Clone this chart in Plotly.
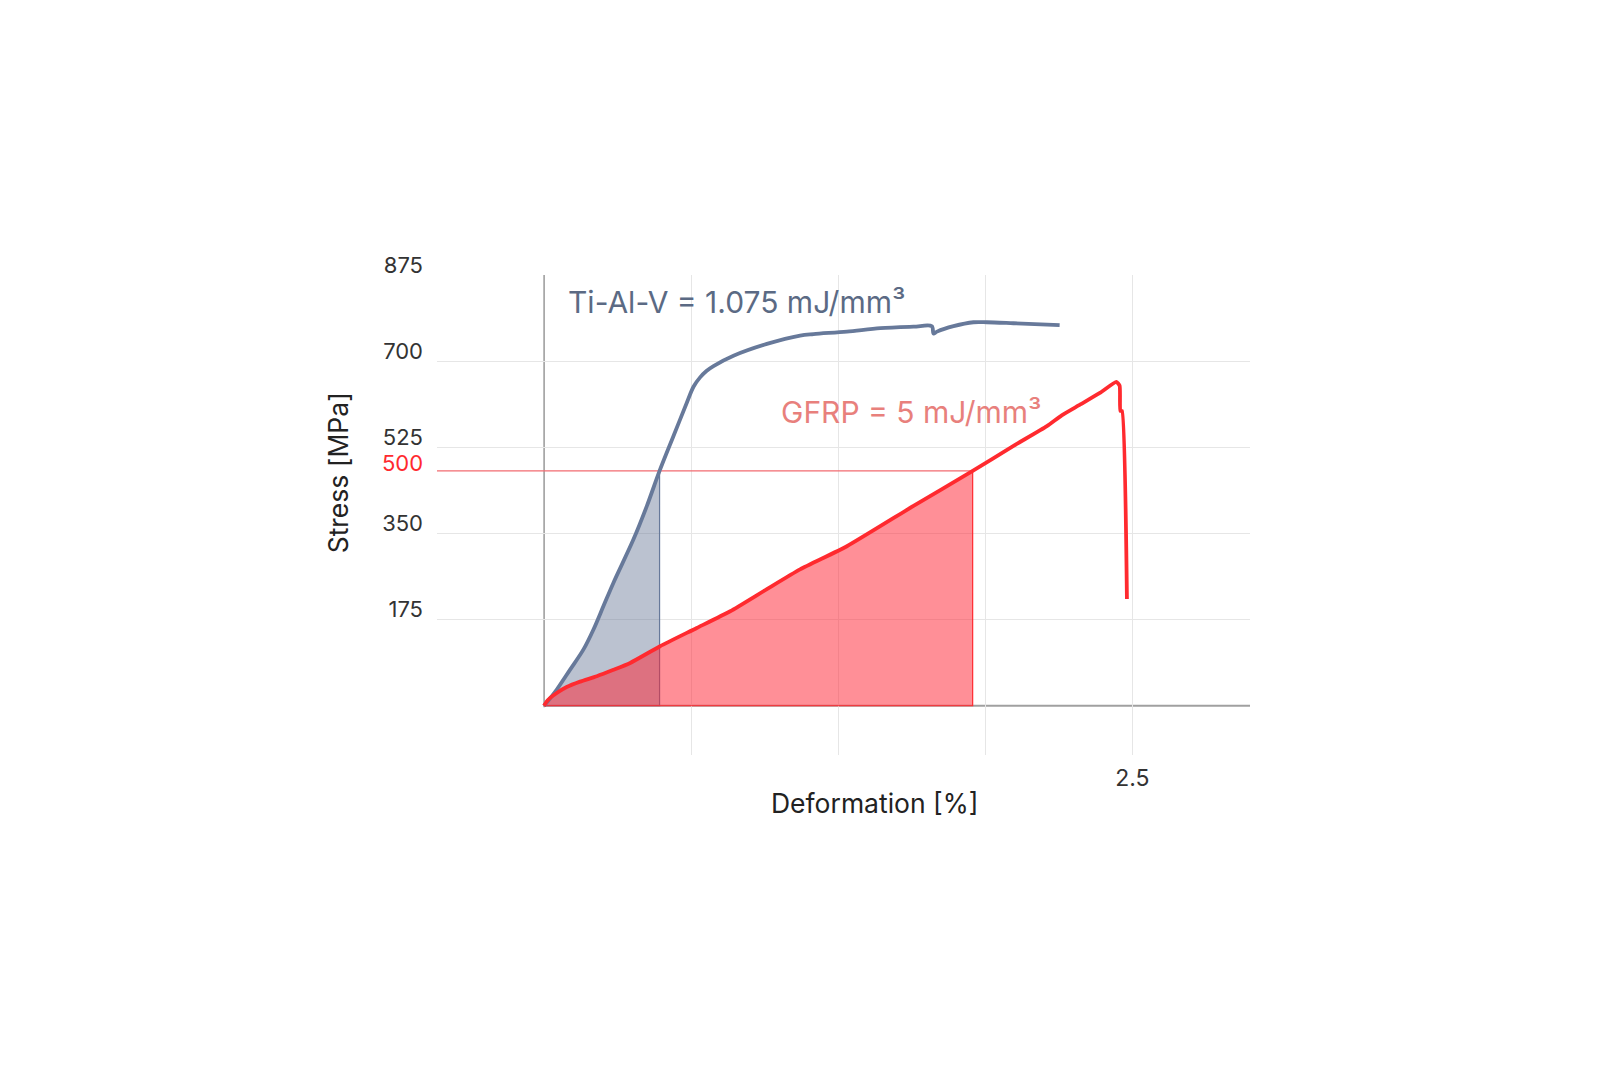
import numpy as np
import plotly.graph_objects as go

# ---- data ----
tial_x = [0.0, 0.054, 0.11, 0.167, 0.21, 0.252, 0.295, 0.38, 0.437, 0.49, 0.55, 0.607,
          0.635, 0.663, 0.69, 0.72, 0.805, 0.947, 1.088, 1.145, 1.287, 1.429, 1.57,
          1.648, 1.655, 1.67, 1.74, 1.825, 1.882, 1.995, 2.191]
tial_y = [0, 33, 73, 114, 155, 202, 250, 338, 406, 476, 548, 616,
          648, 667, 680, 690, 711, 735, 752, 755, 760, 767, 770,
          771, 756, 760, 771, 779, 779, 777, 773]

gfrp_x = [0.0, 0.01, 0.026, 0.054, 0.096, 0.153, 0.224, 0.295, 0.366, 0.493, 0.649, 0.791,
          0.947, 1.088, 1.287, 1.57, 1.818, 1.995, 2.137, 2.2, 2.279, 2.364, 2.432,
          2.446, 2.449, 2.456, 2.477]
gfrp_y = [0, 8, 16, 26, 38, 49, 60, 73, 87, 121, 158, 192,
          237, 277, 324, 406, 476, 528, 568, 590, 612, 636, 658,
          650, 599, 599, 217]

threshold_value = 477          # position of the marked stress level
threshold_label = "500"

y_tick_vals = [175, 350, 525, 700, 875]
y_tick_text = ["175", "350", "525", "700", "875"]
x_tick_vals = [0.625, 1.25, 1.875, 2.5]
x_tick_text = ["", "", "", "2.5"]

tial_label = "Ti-Al-V = 1.075 mJ/mm³"
gfrp_label = "GFRP = 5 mJ/mm³"

BLUE = "#67799a"
RED = "#ff2a2f"
FONT = "Inter"


def area_to_threshold(xs, ys, thr):
    xs = np.asarray(xs, float)
    ys = np.asarray(ys, float)
    idx = np.argmax(ys >= thr)
    x_cut = np.interp(thr, [ys[idx - 1], ys[idx]], [xs[idx - 1], xs[idx]])
    px = list(xs[:idx]) + [x_cut, x_cut, xs[0]]
    py = list(ys[:idx]) + [thr, 0, 0]
    return px, py, x_cut


bx, by, bcut = area_to_threshold(tial_x, tial_y, threshold_value)
rx, ry, rcut = area_to_threshold(gfrp_x, gfrp_y, threshold_value)

fig = go.Figure()

fig.add_trace(go.Scatter(x=bx, y=by, fill="toself", mode="lines",
                         line=dict(color=BLUE, width=1.2),
                         fillcolor="rgba(107,122,153,0.46)", hoverinfo="skip"))
fig.add_trace(go.Scatter(x=rx, y=ry, fill="toself", mode="lines",
                         line=dict(color=RED, width=1.2),
                         fillcolor="rgba(255,32,48,0.5)", hoverinfo="skip"))

# threshold line
fig.add_trace(go.Scatter(x=[-0.455, rcut], y=[threshold_value, threshold_value], mode="lines",
                         line=dict(color="#f26b70", width=1.2), hoverinfo="skip"))

fig.add_trace(go.Scatter(x=tial_x, y=tial_y, mode="lines",
                         line=dict(color=BLUE, width=3.8, shape="spline", smoothing=0.9)))
fig.add_trace(go.Scatter(x=gfrp_x, y=gfrp_y, mode="lines",
                         line=dict(color=RED, width=3.8, shape="spline", smoothing=0.5)))

# axis lines
fig.add_shape(type="line", x0=0, x1=0, y0=-3, y1=875, xref="x", yref="y",
              line=dict(color="#666666", width=1), layer="below")
fig.add_shape(type="line", x0=0, x1=3.0, y0=0, y1=0, xref="x", yref="y",
              line=dict(color="#a0a0a0", width=2), layer="below")

fig.add_annotation(x=0.094, y=820, xref="x", yref="y", text=tial_label, showarrow=False,
                   xanchor="left", yanchor="middle", font=dict(family=FONT, size=30, color="#5b6a84"))
fig.add_annotation(x=0.998, y=597, xref="x", yref="y", text=gfrp_label, showarrow=False,
                   xanchor="left", yanchor="middle", font=dict(family=FONT, size=30, color="#e8807c"))

fig.add_annotation(x=-0.0147, y=threshold_value, xref="paper", yref="y", text=threshold_label,
                   showarrow=False, xanchor="right", yanchor="middle", yshift=8,
                   font=dict(family=FONT, size=22, color="#ff2a2f"))

fig.add_annotation(x=0.538, y=-0.1, xref="paper", yref="paper", text="Deformation [%]",
                   showarrow=False, xanchor="center", yanchor="middle",
                   font=dict(family=FONT, size=26.5, color="#222222"))
fig.add_annotation(x=-0.122, y=0.5885, xref="paper", yref="paper", text="Stress [MPa]",
                   showarrow=False, textangle=-90, xanchor="center", yanchor="middle",
                   font=dict(family=FONT, size=26.5, color="#222222"))

fig.update_layout(
    width=1600, height=1080,
    margin=dict(l=429, r=358, t=267, b=333),
    paper_bgcolor="white", plot_bgcolor="white",
    showlegend=False,
    xaxis=dict(range=[-0.455, 3.0], tickvals=x_tick_vals, ticktext=x_tick_text,
               showgrid=True, gridcolor="#e6e6e6", gridwidth=1, zeroline=False,
               showline=False, ticks="", ticklabelstandoff=7,
               tickfont=dict(family=FONT, size=23, color="#333333")),
    yaxis=dict(range=[-100, 875], tickvals=y_tick_vals, ticktext=y_tick_text,
               showgrid=True, gridcolor="#e6e6e6", gridwidth=1, zeroline=False,
               showline=False, ticks="", ticklabelstandoff=13, ticklabelshift=-10,
               tickfont=dict(family=FONT, size=22, color="#333333")),
)

fig.write_html("out.html")
